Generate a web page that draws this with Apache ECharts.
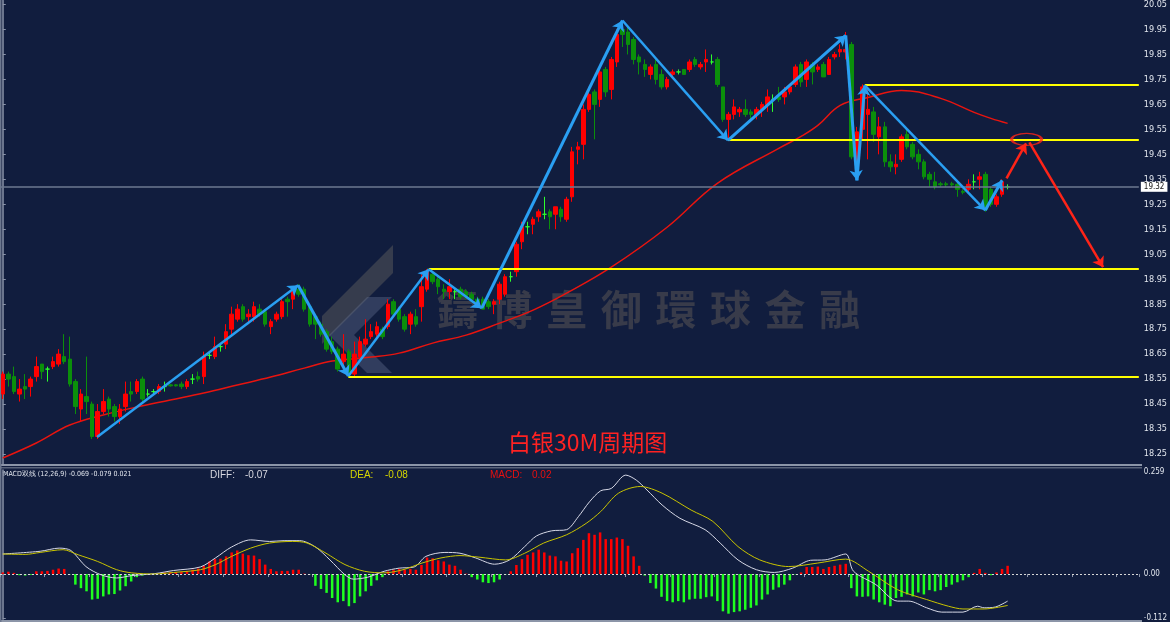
<!DOCTYPE html>
<html>
<head>
<meta charset="utf-8">
<title>白银30M周期图</title>
<script src="https://cdn.jsdelivr.net/npm/echarts@6/dist/echarts.min.js"></script>
<style>
    html, body { margin: 0; padding: 0; background: #111d3e; }
    #chart { width: 1170px; height: 622px; }
</style>
</head>
<body>
<div id="chart"></div>
<script>
// 30M candles: [open, close, low, high]
const candles = [
    [18.49,18.57,18.47,18.58],[18.57,18.55,18.52,18.58],[18.56,18.50,18.49,18.60],[18.49,18.51,18.46,18.55],
    [18.52,18.51,18.47,18.57],[18.52,18.55,18.48,18.56],[18.56,18.60,18.54,18.64],[18.61,18.58,18.55,18.61],
    [18.59,18.59,18.54,18.60],[18.60,18.62,18.59,18.64],[18.61,18.65,18.60,18.67],[18.64,18.62,18.61,18.73],
    [18.63,18.53,18.52,18.72],[18.54,18.44,18.41,18.55],[18.43,18.49,18.38,18.51],[18.48,18.46,18.41,18.64],
    [18.45,18.32,18.31,18.46],[18.32,18.42,18.31,18.45],[18.42,18.46,18.41,18.51],[18.47,18.43,18.40,18.48],
    [18.44,18.40,18.38,18.45],[18.40,18.43,18.37,18.45],[18.44,18.49,18.42,18.54],[18.50,18.49,18.46,18.54],
    [18.50,18.54,18.49,18.55],[18.55,18.47,18.45,18.56],[18.49,18.49,18.48,18.51],[18.50,18.50,18.49,18.51],
    [18.50,18.52,18.49,18.53],[18.52,18.52,18.50,18.54],[18.527,18.523,18.52,18.53],[18.527,18.523,18.52,18.53],
    [18.53,18.52,18.51,18.54],[18.52,18.54,18.51,18.55],[18.55,18.55,18.53,18.57],[18.56,18.55,18.54,18.58],
    [18.56,18.64,18.53,18.66],[18.645,18.645,18.63,18.66],[18.64,18.68,18.63,18.72],[18.68,18.68,18.66,18.69],
    [18.69,18.74,18.67,18.77],[18.75,18.81,18.72,18.84],[18.79,18.83,18.78,18.85],[18.84,18.79,18.78,18.85],
    [18.80,18.81,18.77,18.83],[18.80,18.84,18.78,18.86],[18.83,18.81,18.80,18.85],[18.82,18.77,18.76,18.83],
    [18.76,18.78,18.73,18.79],[18.79,18.81,18.78,18.82],[18.80,18.86,18.79,18.87],[18.87,18.86,18.80,18.88],
    [18.87,18.90,18.83,18.91],[18.91,18.89,18.88,18.93],[18.91,18.83,18.82,18.92],[18.84,18.77,18.76,18.85],
    [18.80,18.77,18.71,18.81],[18.77,18.73,18.72,18.78],[18.74,18.67,18.66,18.75],[18.70,18.66,18.65,18.72],
    [18.67,18.59,18.58,18.68],[18.62,18.65,18.60,18.73],[18.66,18.57,18.56,18.67],[18.57,18.65,18.56,18.70],
    [18.64,18.70,18.62,18.72],[18.69,18.71,18.68,18.79],[18.72,18.74,18.71,18.77],[18.73,18.76,18.72,18.78],
    [18.75,18.72,18.71,18.76],[18.76,18.85,18.75,18.87],[18.86,18.81,18.80,18.87],[18.83,18.79,18.78,18.84],
    [18.80,18.75,18.74,18.81],[18.77,18.81,18.73,18.82],[18.80,18.77,18.76,18.83],[18.84,18.92,18.78,18.97],
    [18.91,18.98,18.90,18.99],[18.97,18.94,18.93,18.98],[18.95,18.92,18.89,18.96],[18.91,18.90,18.87,18.93],
    [18.90,18.92,18.87,18.95],[18.90,18.90,18.87,18.91],[18.91,18.88,18.87,18.92],[18.90,18.88,18.87,18.91],
    [18.89,18.87,18.86,18.90],[18.87,18.85,18.84,18.88],[18.87,18.83,18.83,18.88],[18.86,18.84,18.83,18.87],
    [18.85,18.86,18.81,18.87],[18.87,18.93,18.85,18.94],[18.89,18.96,18.88,18.97],[18.96,18.96,18.94,18.98],
    [18.98,19.09,18.96,19.10],[19.10,19.16,19.07,19.18],[19.16,19.16,19.13,19.18],[19.17,19.19,19.13,19.20],
    [19.20,19.22,19.18,19.23],[19.21,19.21,19.19,19.28],[19.22,19.20,19.15,19.23],[19.21,19.24,19.15,19.24],
    [19.23,19.20,19.18,19.24],[19.19,19.27,19.18,19.28],[19.28,19.46,19.26,19.48],[19.47,19.48,19.41,19.50],
    [19.49,19.63,19.43,19.65],[19.63,19.69,19.62,19.72],[19.70,19.65,19.51,19.71],[19.67,19.78,19.64,19.79],
    [19.79,19.70,19.68,19.80],[19.71,19.83,19.67,19.84],[19.82,19.93,19.80,19.95],[19.95,19.93,19.88,19.98],
    [19.94,19.89,19.85,19.96],[19.91,19.83,19.81,19.92],[19.84,19.82,19.77,19.85],[19.81,19.79,19.76,19.83],
    [19.77,19.80,19.75,19.81],[19.81,19.75,19.73,19.83],[19.77,19.72,19.71,19.79],[19.72,19.75,19.71,19.76],
    [19.77,19.78,19.76,19.79],[19.78,19.78,19.77,19.79],[19.79,19.77,19.77,19.79],[19.79,19.82,19.78,19.83],
    [19.83,19.81,19.80,19.84],[19.80,19.81,19.79,19.82],[19.82,19.83,19.78,19.87],[19.82,19.82,19.81,19.85],
    [19.83,19.73,19.72,19.84],[19.72,19.59,19.58,19.72],[19.59,19.61,19.51,19.62],[19.61,19.64,19.59,19.67],
    [19.62,19.63,19.60,19.64],[19.63,19.61,19.60,19.67],[19.62,19.61,19.59,19.63],[19.61,19.63,19.59,19.64],
    [19.63,19.65,19.60,19.66],[19.65,19.68,19.62,19.71],[19.67,19.67,19.62,19.69],[19.68,19.67,19.66,19.72],
    [19.68,19.70,19.65,19.72],[19.70,19.72,19.69,19.73],[19.73,19.80,19.72,19.81],[19.81,19.74,19.72,19.82],
    [19.75,19.82,19.72,19.83],[19.81,19.78,19.73,19.82],[19.79,19.80,19.78,19.81],[19.81,19.76,19.76,19.82],
    [19.77,19.83,19.77,19.84],[19.84,19.85,19.83,19.86],[19.86,19.87,19.84,19.89],[19.86,19.87,19.83,19.94],
    [19.89,19.44,19.43,19.90],[19.42,19.54,19.35,19.56],[19.55,19.72,19.51,19.73],[19.61,19.63,19.43,19.71],
    [19.62,19.53,19.50,19.64],[19.52,19.56,19.45,19.60],[19.56,19.42,19.40,19.58],[19.42,19.40,19.38,19.45],
    [19.40,19.41,19.37,19.45],[19.43,19.52,19.42,19.53],[19.53,19.48,19.47,19.55],[19.49,19.44,19.43,19.50],
    [19.45,19.42,19.39,19.47],[19.42,19.36,19.35,19.43],[19.37,19.35,19.32,19.38],[19.34,19.32,19.31,19.38],
    [19.332,19.328,19.32,19.34],[19.332,19.328,19.32,19.34],[19.332,19.328,19.32,19.34],[19.33,19.31,19.28,19.34],
    [19.302,19.298,19.29,19.31],[19.31,19.33,19.30,19.35],[19.34,19.34,19.31,19.37],[19.35,19.36,19.31,19.38],
    [19.37,19.23,19.22,19.38],[19.31,19.25,19.24,19.32],[19.25,19.28,19.24,19.29],[19.29,19.34,19.28,19.35],
    [19.32,19.32,19.31,19.33]
];

// moving average (red), read at [bar, price]
const maPoints = [
    [0,18.234],[6,18.294],[12,18.366],[18,18.406],[24,18.438],[30,18.466],[36,18.494],[42,18.526],
    [48,18.558],[54,18.594],[59,18.622],[66,18.638],[71,18.654],[77,18.694],[83,18.726],[89,18.774],
    [95,18.826],[101,18.894],[109,18.998],[119,19.158],[128,19.334],[139,19.474],[143,19.522],[146,19.566],
    [150,19.646],[155,19.678],[161,19.706],[168,19.674],[174,19.618],[177,19.594],[180,19.574]
];

const yTicks = [18.25,18.35,18.45,18.55,18.65,18.75,18.85,18.95,19.05,19.15,19.25,19.35,19.45,19.55,19.65,19.75,19.85,19.95,20.05];
const currentPrice = 19.32;

// drawn support / resistance levels: [start bar, price]
const levels = [[154.4,19.73],[129.9,19.51],[76.3,18.99],[61.9,18.56]];
// blue zigzag vertices [bar, price]
const bluePath = [
    [16.9,18.318],[52.9,18.926],[61.9,18.562],[76.3,18.99],[85.8,18.834],[111.0,19.986],
    [129.9,19.506],[151.0,19.926],[153.0,19.346],[154.4,19.726],[176.0,19.226],[179.0,19.346]
];
// red forecast arrows and target zone
const redArrows = [
    [[179.8,19.354],[183.3,19.494]],
    [[183.9,19.498],[197.1,18.998]]
];
const targetZone = [183.4,19.51];

// MACD (12,26,9)
const macdHist = [
    0.004,
    0.006,0.003,-0.003,-0.004,-0.002,0.007,0.007,0.008,0.011,0.014,
    0.013,-0.001,-0.027,-0.036,-0.044,-0.065,-0.063,-0.057,-0.052,-0.051,
    -0.042,-0.031,-0.019,-0.008,-0.004,-0.002,-0.001,0.001,0.004,0.004,
    0.005,0.006,0.008,0.011,0.014,0.021,0.032,0.038,0.039,0.045,
    0.055,0.060,0.052,0.048,0.047,0.038,0.024,0.013,0.007,0.008,
    0.008,0.011,0.011,0.001,-0.001,-0.030,-0.038,-0.048,-0.061,-0.072,
    -0.069,-0.082,-0.074,-0.057,-0.044,-0.030,-0.016,-0.008,0.007,0.011,
    0.013,0.011,0.013,0.011,0.023,0.042,0.040,0.035,0.032,0.024,
    0.021,0.011,0.001,-0.008,-0.014,-0.021,-0.023,-0.021,-0.014,-0.002,
    0.007,0.023,0.038,0.049,0.055,0.062,0.055,0.047,0.045,0.034,
    0.032,0.053,0.066,0.087,0.104,0.100,
    0.106,0.089,0.089,0.093,0.089,0.072,0.045,0.021,-0.004,-0.023,
    -0.037,-0.058,-0.069,-0.072,-0.069,-0.072,-0.065,-0.063,-0.063,-0.059,
    -0.057,-0.069,-0.095,-0.101,-0.097,-0.095,-0.091,-0.086,-0.080,-0.065,
    -0.052,-0.040,-0.034,-0.027,-0.016,-0.001,0.004,0.018,0.018,0.019,
    0.013,0.018,0.021,0.024,0.026,
    -0.036,-0.057,-0.058,-0.057,-0.065,-0.072,-0.078,-0.082,-0.061,-0.058,
    -0.052,-0.057,-0.047,-0.052,-0.041,-0.044,-0.041,-0.033,-0.027,-0.021,
    -0.016,-0.008,0.003,0.013,0.003,-0.003,0.004,0.013,0.021
];
const diffPoints = [
    [0,0.051],[6.7,0.058],[10.1,0.066],[12.2,0.060],[14.9,0.019],[17.6,-0.002],[20.4,-0.010],[23.1,-0.004],
    [27.2,0.001],[30.6,0.009],[35.4,0.018],[38.1,0.041],[41,0.069],[44.4,0.087],[47.8,0.083],[50.4,0.085],
    [53.2,0.085],[56,0.069],[58.6,0.036],[61.3,-0.002],[62.8,-0.013],[65.4,-0.008],[68.3,0.007],[71,0.015],
    [73.7,0.018],[75.8,0.045],[79.2,0.055],[81.9,0.053],[84.7,0.041],[88.1,0.025],[90.8,0.036],[93.5,0.070],
    [95.6,0.097],[98.3,0.110],[101,0.113],[103.1,0.146],[105.1,0.184],[107.1,0.212],[109,0.218],[111.6,0.252],
    [113.5,0.239],[115.4,0.214],[118.1,0.176],[121.3,0.142],[125.8,0.113],[128.5,0.079],[131.7,0.036],[135,0.011],
    [138.2,0.004],[141.5,0.015],[144.7,0.035],[147.3,0.036],[151,0.051],[152.4,0.007],[156.4,-0.027],[160.3,-0.069],
    [162.3,-0.069],[165.5,-0.086],[168.2,-0.097],[172,-0.097],[174.6,-0.082],[175.8,-0.086],[177.8,-0.084],[180,-0.069]
];
const deaPoints = [
    [0,0.051],[4,0.050],[6.7,0.055],[10.8,0.062],[13.5,0.049],[17,0.032],[20.4,0.011],[23.1,0.003],
    [27.2,0.000],[30.6,0.004],[35.4,0.011],[38.1,0.024],[41,0.045],[44.4,0.066],[47.8,0.079],[51.9,0.083],
    [54.5,0.079],[57.9,0.053],[61.3,0.024],[64.8,0.007],[68.3,0.003],[71.7,0.011],[75.1,0.028],[78.5,0.041],
    [81.9,0.047],[85.3,0.043],[90.1,0.036],[93.5,0.053],[96.9,0.079],[101,0.100],[104.5,0.129],[107.1,0.159],
    [110.3,0.206],[114.2,0.223],[118.1,0.206],[123.3,0.163],[127.2,0.134],[131.7,0.070],[135.6,0.036],[140.8,0.019],
    [146,0.028],[151,0.038],[155.1,0.007],[160.3,-0.040],[165.5,-0.065],[169.4,-0.082],[172,-0.089],[175.8,-0.089],
    [180,-0.080]
];
const macdTicks = [-0.112, 0, 0.259];

const slotCount = 204;
const slots = Array.from({ length: slotCount }, (_, i) => String(i));
const lastSlot = slotCount - 0.5;

const blueWidths = [2.5, 3, 2.5, 2.5, 3, 2.5, 3, 3, 3, 2.5, 3];
const axisGray = '#8a93a8';
const labelGray = '#e2e6ee';

const watermark = '鑄博皇御環球金融'.split('').map((ch, k) => ({
    type: 'text', x: 437 + k * 54.6, y: 289, silent: true,
    style: { text: ch, fill: '#383b4a', font: 'bold 41px "Noto Sans CJK TC"' }
}));

const chart = echarts.init(document.getElementById('chart'));
chart.setOption({
    animation: false,
    backgroundColor: '#111d3e',
    graphic: [
        { type: 'polygon', silent: true, shape: { points: [[393,245],[393,273],[322,344],[322,316]] }, style: { fill: 'rgba(85,85,90,0.55)' } },
        { type: 'polygon', silent: true, shape: { points: [[367,297],[392,297],[354,335],[392,373],[367,373],[329,335]] }, style: { fill: 'rgba(110,122,155,0.35)' } },
        ...watermark,
        { type: 'rect', silent: true, shape: { x: 0, y: 464, width: 1142, height: 2 }, style: { fill: '#8c95a8' } },
        { type: 'rect', silent: true, shape: { x: 0, y: 467, width: 1142, height: 1.5 }, style: { fill: '#59637a' } },
        { type: 'rect', silent: true, shape: { x: 0, y: 620, width: 1142, height: 2 }, style: { fill: '#8c95a8' } },
        { type: 'rect', silent: true, shape: { x: 0, y: 0, width: 1.5, height: 622 }, style: { fill: '#6c778e' } },
        { type: 'text', x: 508, y: 431, silent: true,
          style: { text: '白银30M周期图', fill: '#ff2222', font: '23px "Noto Sans CJK SC"' } },
        { type: 'text', x: 3, y: 471, silent: true,
          style: { text: 'MACD双线 (12,26,9) -0.069 -0.079 0.021', fill: labelGray, font: '7px "DejaVu Sans Condensed", "Liberation Sans"' } },
        { type: 'text', x: 210, y: 470, silent: true, style: { text: 'DIFF:', fill: '#d8d8e0', font: '10px "Liberation Sans"' } },
        { type: 'text', x: 245, y: 470, silent: true, style: { text: '-0.07', fill: '#d8d8e0', font: '10px "Liberation Sans"' } },
        { type: 'text', x: 350, y: 470, silent: true, style: { text: 'DEA:', fill: '#d6d600', font: '10px "Liberation Sans"' } },
        { type: 'text', x: 385, y: 470, silent: true, style: { text: '-0.08', fill: '#d6d600', font: '10px "Liberation Sans"' } },
        { type: 'text', x: 490, y: 470, silent: true, style: { text: 'MACD:', fill: '#e81010', font: '10px "Liberation Sans"' } },
        { type: 'text', x: 532, y: 470, silent: true, style: { text: '0.02', fill: '#e81010', font: '10px "Liberation Sans"' } }
    ],
    grid: [
        { left: -2, right: 29, top: 0, height: 464 },
        { left: -2, right: 29, top: 470, height: 150 }
    ],
    xAxis: [
        { type: 'category', gridIndex: 0, data: slots, show: false },
        { type: 'value', gridIndex: 0, min: -0.5, max: lastSlot, show: false },
        { type: 'category', gridIndex: 1, data: slots,
          axisLine: { show: false },
          axisTick: { show: true, interval: 7, length: 3, lineStyle: { color: axisGray } },
          axisLabel: { show: false } },
        { type: 'value', gridIndex: 1, min: -0.5, max: lastSlot, show: false }
    ],
    yAxis: [
        { type: 'value', gridIndex: 0, position: 'right', min: 18.21, max: 20.066,
          splitLine: { show: false },
          axisLine: { show: true, lineStyle: { color: axisGray, width: 1.5 } },
          axisTick: { show: true, length: 3, customValues: yTicks, lineStyle: { color: axisGray } },
          axisLabel: { customValues: yTicks, margin: 5, color: labelGray, fontSize: 9,
                       fontFamily: 'DejaVu Sans Condensed', formatter: v => v.toFixed(2) } },
        { type: 'value', gridIndex: 1, position: 'right', min: -0.1155, max: 0.265,
          splitLine: { show: false },
          axisLine: { show: true, lineStyle: { color: axisGray, width: 1.5 } },
          axisTick: { show: true, length: 3, customValues: macdTicks, lineStyle: { color: axisGray } },
          axisLabel: { customValues: macdTicks, margin: 5, color: labelGray, fontSize: 8,
                       fontFamily: 'DejaVu Sans Condensed', formatter: v => (v === 0 ? '0.00' : v.toFixed(3)) } }
    ],
    series: [
        {
            type: 'candlestick', xAxisIndex: 0, yAxisIndex: 0, barWidth: 4,
            data: candles,
            itemStyle: {
                color: '#ff0000', color0: '#0b8f0b',
                borderColor: '#ff0000', borderColor0: '#0b8f0b',
                borderColorDoji: '#2cff2c', borderWidth: 1
            },
            markLine: {
                silent: true, symbol: ['none', 'none'],
                lineStyle: { color: '#6d7890', width: 1.5, type: 'solid' },
                label: { position: 'end', distance: 2, formatter: () => currentPrice.toFixed(2),
                         backgroundColor: '#ffffff', color: '#111', fontSize: 8,
                         fontFamily: 'DejaVu Sans Condensed', padding: [1, 3] },
                data: [{ yAxis: currentPrice }]
            },
            z: 3
        },
        {
            type: 'line', xAxisIndex: 1, yAxisIndex: 0, data: maPoints, smooth: 0.4,
            showSymbol: false, lineStyle: { color: '#e8140f', width: 1.5 }, z: 2
        },
        {
            type: 'lines', coordinateSystem: 'cartesian2d', xAxisIndex: 1, yAxisIndex: 0,
            silent: true, symbol: ['none', 'none'],
            lineStyle: { color: '#ffff00', width: 2, opacity: 1 },
            data: levels.map(l => ({ coords: [[l[0], l[1]], [lastSlot, l[1]]] })),
            z: 4
        },
        {
            type: 'lines', coordinateSystem: 'cartesian2d', xAxisIndex: 1, yAxisIndex: 0,
            silent: true, symbol: ['none', 'arrow'], symbolSize: 10,
            lineStyle: { color: '#2a9ff2', width: 2.5, opacity: 1 },
            data: bluePath.slice(1).map((p, k) => ({
                coords: [bluePath[k], p], lineStyle: { width: blueWidths[k] }
            })),
            z: 6
        },
        {
            type: 'lines', coordinateSystem: 'cartesian2d', xAxisIndex: 1, yAxisIndex: 0,
            silent: true, symbol: ['none', 'arrow'], symbolSize: 10,
            lineStyle: { color: '#ff2418', width: 2.5, opacity: 1 },
            data: redArrows.map(a => ({ coords: a })),
            z: 6
        },
        {
            type: 'scatter', xAxisIndex: 1, yAxisIndex: 0, silent: true,
            data: [targetZone], symbol: 'circle', symbolSize: [30, 12],
            itemStyle: { color: 'rgba(0,0,0,0)', borderColor: '#ff2418', borderWidth: 2 },
            z: 6
        },
        {
            type: 'bar', xAxisIndex: 2, yAxisIndex: 1, barWidth: 2.5,
            data: macdHist,
            itemStyle: { color: p => (p.value >= 0 ? '#ff0000' : '#1fff1f') },
            markLine: {
                silent: true, symbol: ['none', 'none'], label: { show: false },
                lineStyle: { color: '#d8d8d8', width: 1, type: [2, 2] },
                data: [{ yAxis: 0 }]
            }
        },
        {
            type: 'line', xAxisIndex: 3, yAxisIndex: 1, data: diffPoints, smooth: 0.3,
            showSymbol: false, lineStyle: { color: '#d6d8e6', width: 1 }, z: 4
        },
        {
            type: 'line', xAxisIndex: 3, yAxisIndex: 1, data: deaPoints, smooth: 0.3,
            showSymbol: false, lineStyle: { color: '#c9c400', width: 1 }, z: 4
        }
    ]
});
</script>
</body>
</html>
